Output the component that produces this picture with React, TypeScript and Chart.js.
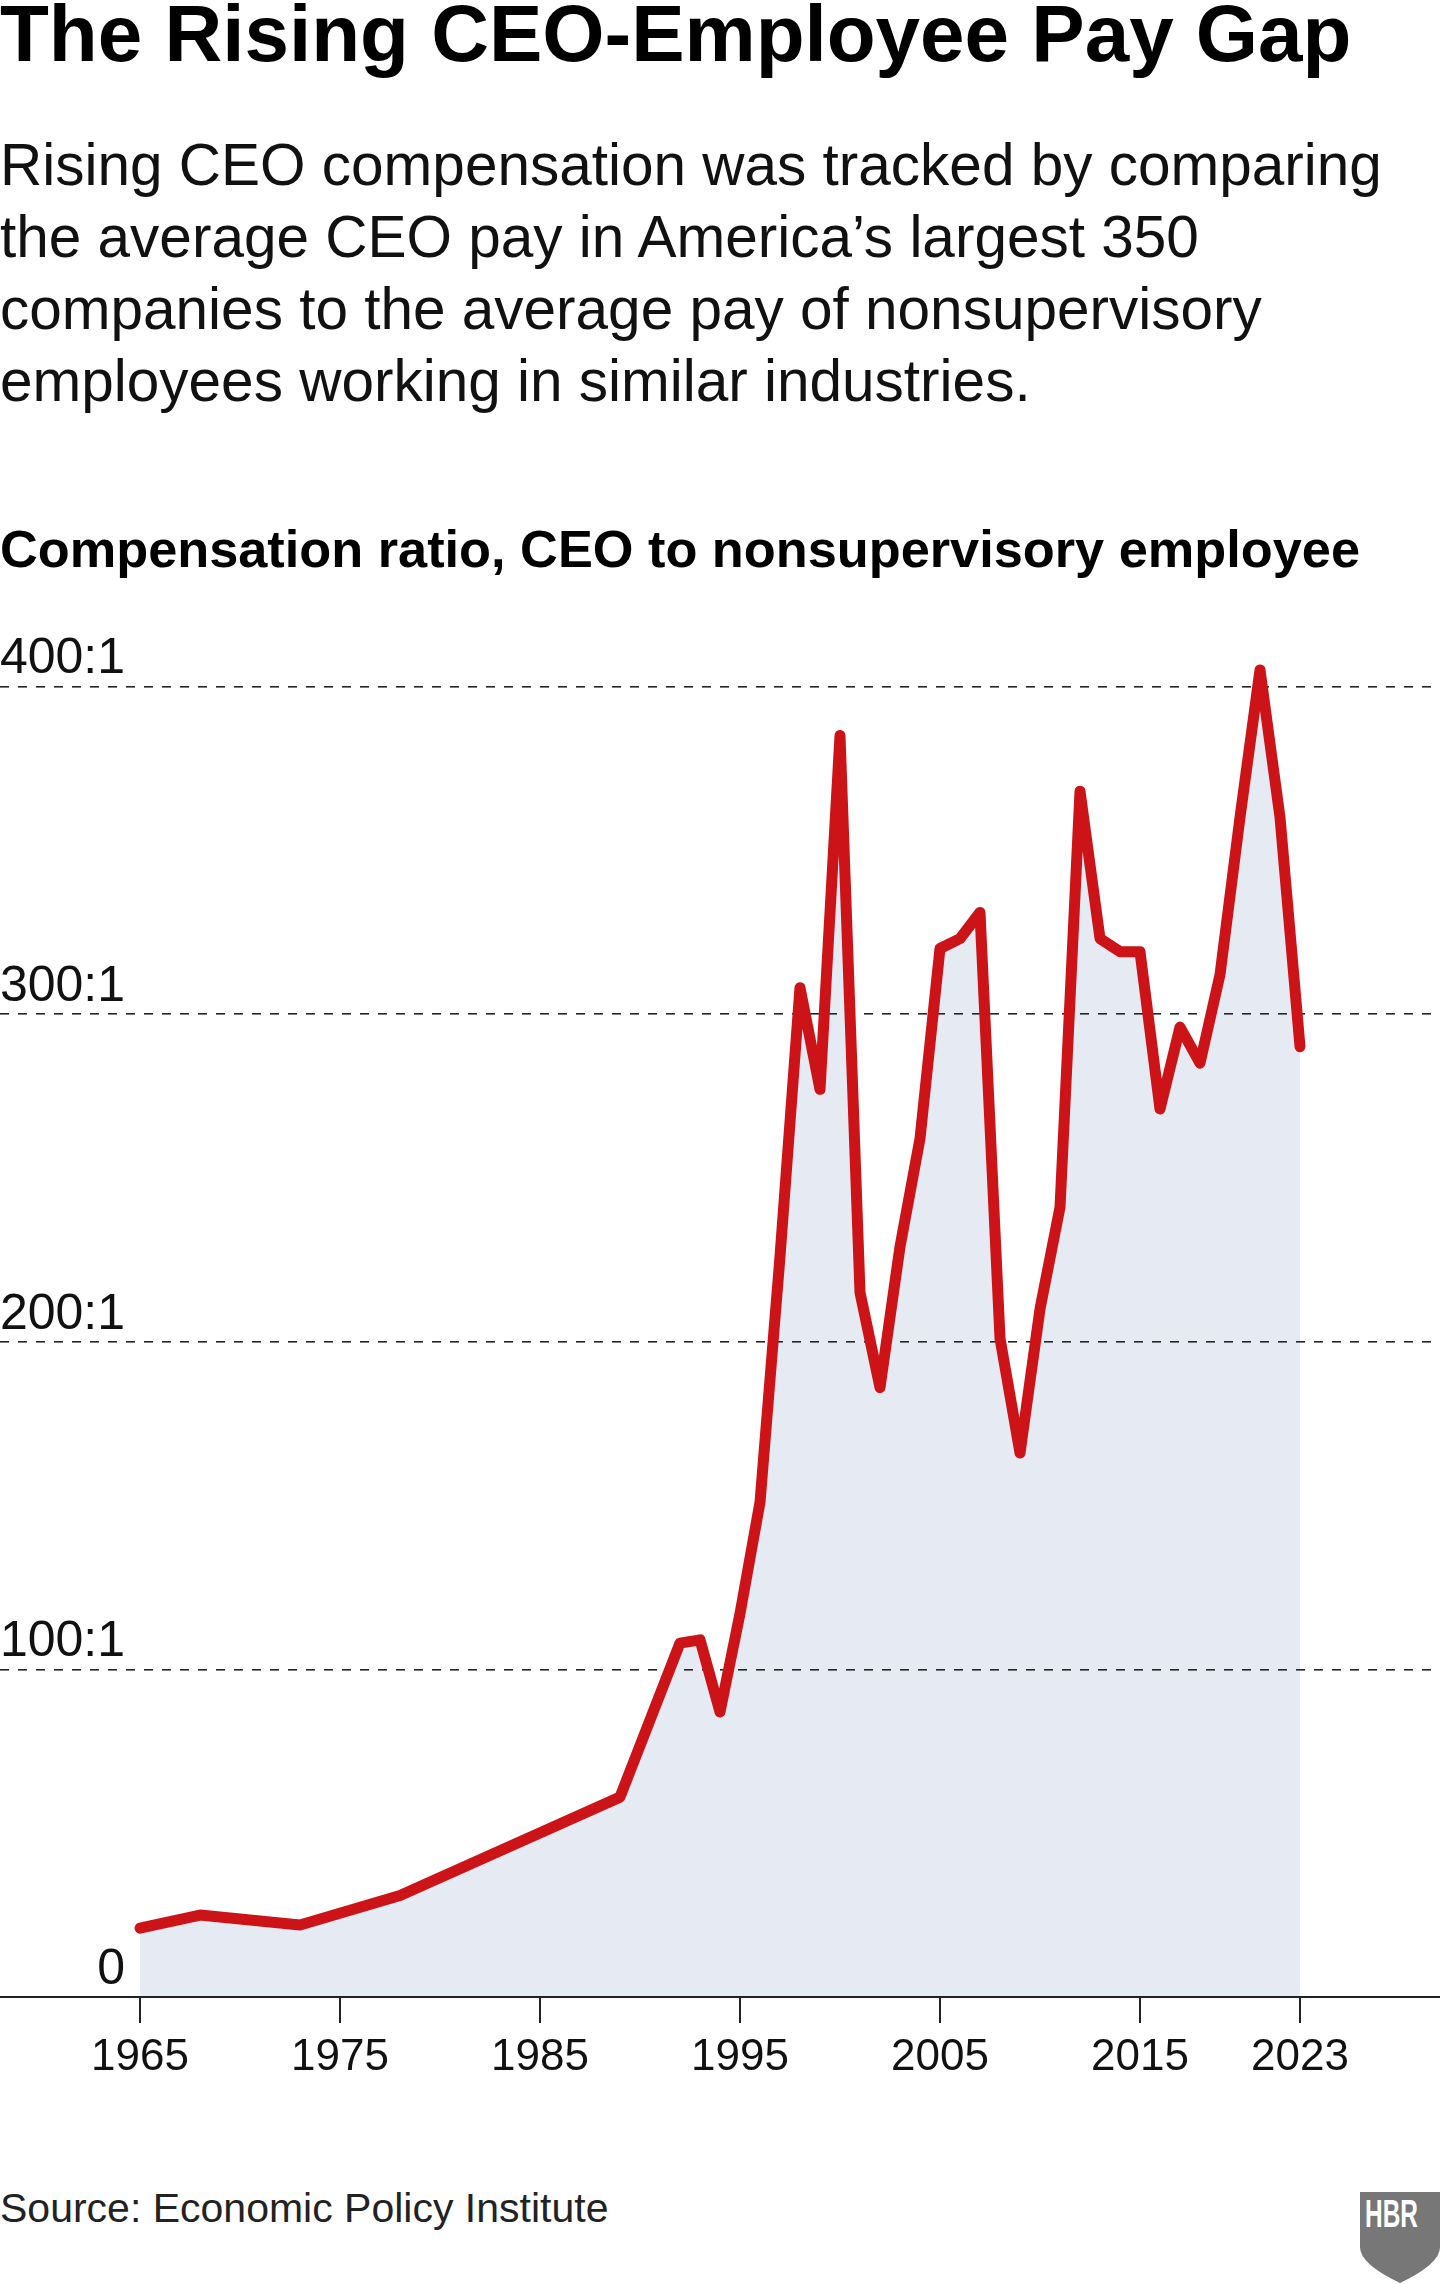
import React, { useEffect, useRef } from "react";
import { Chart, registerables } from "chart.js";

Chart.register(...registerables);

const TITLE = "The Rising CEO-Employee Pay Gap";
const SUBTITLE_LINES = [
  "Rising CEO compensation was tracked by comparing",
  "the average CEO pay in America\u2019s largest 350",
  "companies to the average pay of nonsupervisory",
  "employees working in similar industries.",
];
const CHART_HEADING = "Compensation ratio, CEO to nonsupervisory employee";
const SOURCE = "Source: Economic Policy Institute";

const years = [
  1965, 1968, 1973, 1978, 1989, 1992, 1993, 1994, 1995, 1996, 1997, 1998,
  1999, 2000, 2001, 2002, 2003, 2004, 2005, 2006, 2007, 2008, 2009, 2010,
  2011, 2012, 2013, 2014, 2015, 2016, 2017, 2018, 2019, 2020, 2021, 2022,
  2023,
];
const ratios = [
  21, 25, 22, 31, 61, 108, 109, 87, 117, 151, 226, 308,
  277, 385, 215, 186, 229, 262, 320, 323, 331, 201, 166, 210,
  241, 368, 323, 319, 319, 271, 296, 285, 312, 360, 405, 360,
  290,
];

const xTickYears = [1965, 1975, 1985, 1995, 2005, 2015, 2023];
const yTickValues = [0, 100, 200, 300, 400];
const yTickLabels = ["0", "100:1", "200:1", "300:1", "400:1"];

const FONT = '"Liberation Sans", Arial, Helvetica, sans-serif';

const yLabelPlugin = {
  id: "yLabels",
  afterDraw(chart: any) {
    const scale = chart.scales.y;
    const ctx = chart.ctx;
    ctx.save();
    ctx.font = `50px ${FONT}`;
    ctx.fillStyle = "#111";
    ctx.textAlign = "right";
    ctx.textBaseline = "alphabetic";
    scale.ticks.forEach((t: any) => {
      const idx = yTickValues.indexOf(t.value);
      if (idx < 0) return;
      ctx.fillText(yTickLabels[idx], 125, scale.getPixelForValue(t.value) - 13);
    });
    ctx.restore();
  },
};

function CeoChart() {
  const ref = useRef<HTMLCanvasElement | null>(null);
  useEffect(() => {
    if (!ref.current) return;
    const chart = new Chart(ref.current, {
      type: "line",
      data: {
        datasets: [
          {
            data: years.map((y, i) => ({ x: y, y: ratios[i] })),
            borderColor: "#cc1418",
            borderWidth: 11,
            borderCapStyle: "round",
            borderJoinStyle: "round",
            backgroundColor: "#e6ebf3",
            fill: "origin",
            pointRadius: 0,
            tension: 0,
          },
        ],
      },
      options: {
        responsive: false,
        animation: false,
        devicePixelRatio: 1,
        layout: { padding: 0 },
        plugins: {
          legend: { display: false },
          tooltip: { enabled: false },
          title: { display: false },
          filler: { drawTime: "beforeDraw" },
        },
        scales: {
          x: {
            type: "linear",
            min: 1958,
            max: 2030,
            afterBuildTicks: (scale: any) => {
              scale.ticks = xTickYears.map((v) => ({ value: v }));
            },
            afterFit: (scale: any) => {
              scale.height = 100;
              scale.paddingLeft = 0;
              scale.paddingRight = 0;
            },
            grid: {
              drawOnChartArea: false,
              drawTicks: true,
              tickLength: 26,
              color: "#222",
              lineWidth: 2,
            },
            border: { display: true, color: "#222", width: 2 },
            ticks: {
              padding: 8,
              color: "#111",
              font: { family: FONT, size: 44 },
              maxRotation: 0,
              autoSkip: false,
              callback: (v: any) => String(v),
            },
          },
          y: {
            type: "linear",
            min: 0,
            max: 430,
            afterBuildTicks: (scale: any) => {
              scale.ticks = yTickValues.map((v) => ({ value: v }));
            },
            afterFit: (scale: any) => {
              scale.width = 0;
              scale.paddingTop = 0;
              scale.paddingBottom = 0;
            },
            grid: {
              drawTicks: false,
              tickLength: 0,
              lineWidth: 1.6,
              color: (ctx: any) =>
                ctx.tick && ctx.tick.value === 0 ? "rgba(0,0,0,0)" : "#262626",
            },
            border: { display: false, dash: [9, 9] },
            ticks: { display: false },
          },
        },
      },
      plugins: [yLabelPlugin],
    } as any);
    return () => chart.destroy();
  }, []);
  return (
    <canvas
      ref={ref}
      width={1440}
      height={1509}
      style={{ position: "absolute", left: 0, top: 588, display: "block" }}
    />
  );
}

export default function App() {
  useEffect(() => {
    document.body.style.margin = "0";
  }, []);
  return (
    <div
      style={{
        position: "absolute",
        left: 0,
        top: 0,
        width: 1440,
        height: 2284,
        background: "#fff",
        overflow: "hidden",
        fontFamily: FONT,
        color: "#111",
      }}
    >
      <div
        style={{
          position: "absolute",
          left: 0,
          top: -6,
          fontSize: 80,
          fontWeight: 700,
          lineHeight: 1,
          whiteSpace: "nowrap",
          color: "#000",
        }}
      >
        {TITLE}
      </div>
      <div
        style={{
          position: "absolute",
          left: 0,
          top: 129,
          fontSize: 58.5,
          lineHeight: "72px",
          whiteSpace: "nowrap",
        }}
      >
        {SUBTITLE_LINES.map((l, i) => (
          <div key={i}>{l}</div>
        ))}
      </div>
      <div
        style={{
          position: "absolute",
          left: 0,
          top: 523,
          fontSize: 52.3,
          fontWeight: 700,
          lineHeight: 1,
          whiteSpace: "nowrap",
          color: "#000",
        }}
      >
        {CHART_HEADING}
      </div>
      <CeoChart />
      <div
        style={{
          position: "absolute",
          left: 0,
          top: 2188,
          fontSize: 41,
          lineHeight: 1,
          whiteSpace: "nowrap",
          color: "#222",
        }}
      >
        {SOURCE}
      </div>
      <svg
        width={80}
        height={92}
        viewBox="0 0 80 92"
        style={{ position: "absolute", left: 1360, top: 2192 }}
      >
        <path d="M0,0 H80 V55 Q80,72 40,91 Q0,72 0,55 Z" fill="#777" />
        <text
          x={5}
          y={35}
          fill="#fff"
          fontFamily={FONT}
          fontWeight={700}
          fontSize={39}
          textLength={53}
          lengthAdjust="spacingAndGlyphs"
        >
          HBR
        </text>
      </svg>
    </div>
  );
}
